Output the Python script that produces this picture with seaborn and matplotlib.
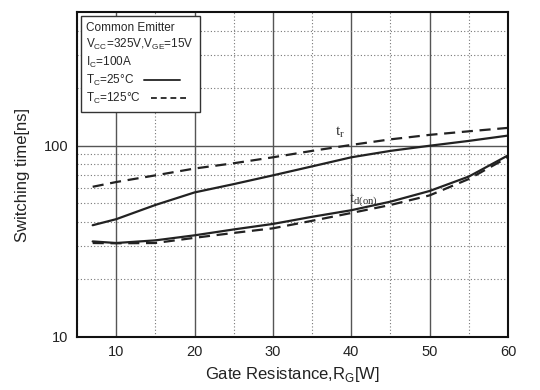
import numpy as np
import pandas as pd
import matplotlib
matplotlib.use("Agg")
import matplotlib.pyplot as plt
import matplotlib.ticker as mtick
from matplotlib.lines import Line2D
import seaborn as sns

# ── Data ──────────────────────────────────────────────────────
rg        = [7, 10, 15, 20, 25, 30, 35, 40, 45, 50, 55, 60]
tr_25     = [38.4, 41.3, 49, 57, 63, 70, 78, 87, 94, 100, 106, 113]
tr_125    = [61, 64.6, 70, 76, 81, 87, 94, 101, 108, 114, 119, 124]
tdon_25   = [31.6, 31, 32, 34, 36.5, 39, 42.5, 46, 51, 58, 69, 89]
tdon_125  = [31, 30.9, 31, 33, 35, 37, 40.5, 44.5, 49, 55, 67, 87]

rows = []
for name, temp, vals in [("tr", "25", tr_25), ("tr", "125", tr_125),
                         ("tdon", "25", tdon_25), ("tdon", "125", tdon_125)]:
    for x, v in zip(rg, vals):
        rows.append({"Rg": x, "t": v, "curve": name, "Tc": temp})
df = pd.DataFrame(rows)

# ── Style ────────────────────────────────────────────────────
sns.set_style("white")
plt.rcParams["font.family"] = ["Liberation Sans", "DejaVu Sans"]
plt.rcParams["mathtext.fontset"] = "custom"
plt.rcParams["mathtext.rm"] = "Liberation Sans"

fig = plt.figure(figsize=(5.4, 3.9), dpi=100)
ax = fig.add_axes([0.1426, 0.136, 0.7981, 0.833])

sns.lineplot(data=df, x="Rg", y="t", units="curve", hue="Tc", style="Tc",
             estimator=None, palette={"25": "#222222", "125": "#222222"},
             dashes={"25": "", "125": (5, 3)}, linewidth=1.6,
             legend=False, ax=ax)

ax.set_yscale("log")
ax.set_xlim(5, 60)
ax.set_ylim(10, 500)

# grid: solid majors, dotted minors
ax.set_xticks([10, 20, 30, 40, 50, 60])
ax.xaxis.set_minor_locator(mtick.MultipleLocator(5))
ax.yaxis.set_major_locator(mtick.FixedLocator([10, 100]))
ax.yaxis.set_minor_locator(mtick.FixedLocator([20, 30, 40, 50, 60, 70, 80, 90,
                                               200, 300, 400]))
ax.yaxis.set_major_formatter(mtick.FormatStrFormatter("%d"))
ax.yaxis.set_minor_formatter(mtick.NullFormatter())
ax.grid(which="major", color="#555555", linewidth=1.0, linestyle="-")
ax.grid(which="minor", color="#777777", linewidth=0.8, linestyle=(0, (1, 2)))
ax.set_axisbelow(True)
ax.tick_params(which="both", length=0, labelsize=10.5, colors="#222222", pad=6)
for s in ax.spines.values():
    s.set_color("#111111")
    s.set_linewidth(1.5)

ax.set_xlabel(r"Gate Resistance,R$_\mathregular{G}$[W]", fontsize=12, color="#222222")
ax.set_ylabel("Switching time[ns]", fontsize=12, color="#222222", labelpad=10)

# curve labels
ax.text(37.9, 113, r"t$_\mathregular{r}$", fontsize=11, color="#333333",
        family="Liberation Serif")
ax.text(39.7, 50.5, r"t$_\mathregular{d(on)}$", fontsize=11, color="#333333",
        family="Liberation Serif")

# legend box: condition text as title, temperature entries below
handles = [Line2D([], [], color="#333333", linewidth=1.4),
           Line2D([], [], color="#333333", linewidth=1.4, linestyle=(0, (3, 2)))]
labels = [r"T$_\mathregular{C}$=25°C", r"T$_\mathregular{C}$=125°C"]
title = ("Common Emitter\n"
         r"V$_\mathregular{CC}$=325V,V$_\mathregular{GE}$=15V" "\n"
         r"I$_\mathregular{C}$=100A")
leg = ax.legend(handles, labels, title=title, title_fontsize=8.5,
                loc="upper left", markerfirst=False, alignment="left",
                fontsize=8.5, frameon=True, fancybox=False, handlelength=3.0,
                borderaxespad=0.3, labelspacing=0.25, handletextpad=0.8,
                borderpad=0.5)
leg.get_title().set_linespacing(1.3)
leg._legend_box.sep = 2
for col in leg._legend_handle_box.get_children():
    col.align = "left"
leg.get_frame().set_edgecolor("#333333")
leg.get_frame().set_linewidth(1.0)
leg.get_frame().set_alpha(1)

plt.savefig("out.png", dpi=100)
